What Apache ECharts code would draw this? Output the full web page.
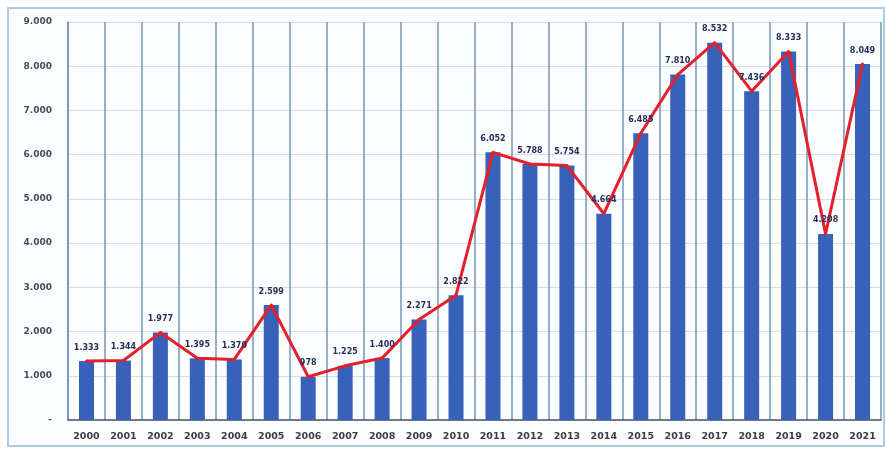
<!DOCTYPE html>
<html>
<head>
<meta charset="utf-8">
<style>
  html, body { margin: 0; padding: 0; background: #ffffff; }
  #chart { width: 886px; height: 451px; }
</style>
<script src="https://cdn.jsdelivr.net/npm/echarts@6/dist/echarts.min.js"></script>
</head>
<body>
<div id="chart"></div>
<script>
// Years on the category axis
const years = ['2000', '2001', '2002', '2003', '2004', '2005', '2006', '2007', '2008', '2009', '2010',
               '2011', '2012', '2013', '2014', '2015', '2016', '2017', '2018', '2019', '2020', '2021'];

// Yearly totals (bars and the red trend line share the same values)
const totals = [1333, 1344, 1977, 1395, 1370, 2599, 978, 1225, 1400, 2271, 2822,
                6052, 5788, 5754, 4664, 6485, 7810, 8532, 7436, 8333, 4208, 8049];

// Value axis range
const yMin = 0;
const yMax = 9000;
const yStep = 1000;

// Thousands separated with a dot, zero drawn as a dash
function fmt(n) {
  if (n === 0) return '-';
  const th = Math.floor(n / 1000);
  const rest = n % 1000;
  if (th === 0) return String(rest);
  return th + '.' + String(rest).padStart(3, '0');
}

const chart = echarts.init(document.getElementById('chart'), null, { renderer: 'canvas' });

chart.setOption({
  backgroundColor: '#ffffff',
  animation: false,
  textStyle: { fontFamily: 'DejaVu Sans' },
  graphic: [
    {
      type: 'rect',
      shape: { x: 8, y: 8, width: 876, height: 438 },
      style: { fill: '#fbfdff', stroke: '#a9cce8', lineWidth: 2 },
      z: -10
    }
  ],
  grid: { left: 68, right: 5, top: 22, bottom: 31 },
  xAxis: {
    type: 'category',
    data: years,
    boundaryGap: true,
    axisLine: { show: true, lineStyle: { color: '#4a5666', width: 1.5 } },
    axisTick: { show: false },
    axisLabel: {
      margin: 12,
      color: '#3a3d45',
      fontWeight: 'bold',
      fontSize: 9.5,
      fontFamily: 'DejaVu Sans'
    },
    splitLine: { show: true, lineStyle: { color: '#7496b8', width: 1.5 } }
  },
  yAxis: {
    type: 'value',
    min: yMin,
    max: yMax,
    interval: yStep,
    axisLine: { show: true, lineStyle: { color: '#7496b8', width: 1.5 } },
    axisTick: { show: false },
    axisLabel: {
      margin: 16,
      color: '#4a4d55',
      fontWeight: 'bold',
      fontSize: 9,
      fontFamily: 'DejaVu Sans',
      formatter: v => fmt(v)
    },
    splitLine: { show: true, lineStyle: { color: '#dcdcdc', width: 1 } }
  },
  series: [
    {
      type: 'bar',
      data: totals,
      barWidth: 15,
      itemStyle: { color: '#3862ba' },
      z: 2
    },
    {
      type: 'line',
      data: totals,
      symbol: 'circle',
      symbolSize: 3,
      showSymbol: true,
      itemStyle: { color: '#e3202b' },
      lineStyle: { color: '#e3202b', width: 3 },
      z: 3,
      label: {
        show: true,
        position: 'top',
        distance: 8,
        color: '#26305a',
        fontWeight: 'bold',
        fontSize: 8,
        fontFamily: 'DejaVu Sans',
        formatter: p => fmt(p.value)
      },
      labelLayout: { hideOverlap: false }
    }
  ]
});
</script>
</body>
</html>
